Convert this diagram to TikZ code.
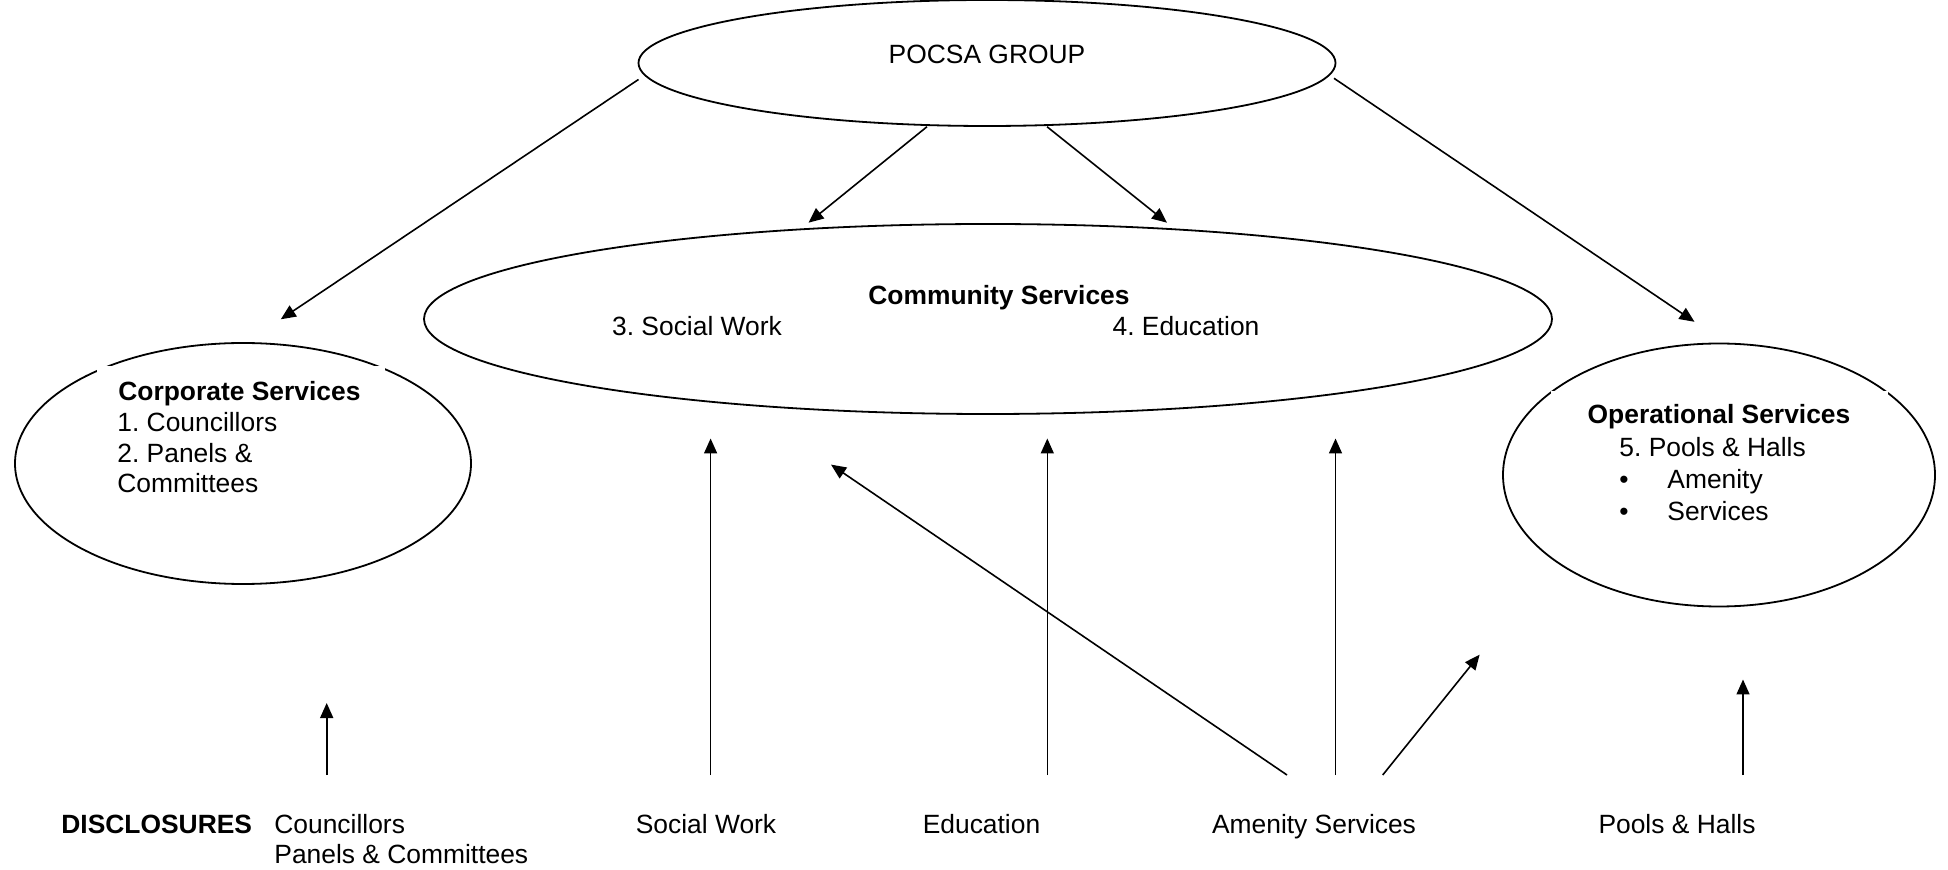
\documentclass[tikz,border=0pt]{standalone}
\usepackage{fontspec}
\setmainfont{Liberation Sans}
\usetikzlibrary{shapes.geometric,arrows.meta}
\frenchspacing
\begin{document}
\begin{tikzpicture}[x=0.5pt,y=-0.5pt,
  txt/.style={inner sep=0pt,font=\fontsize{13.2}{15.5}\selectfont},
  oval/.style={ellipse,draw,line width=0.9pt,inner sep=0pt},
  link/.style={line width=0.8pt,-{Triangle[length=7.5pt,width=6.5pt]}},
  cover/.style={fill=white,draw=none}]
\useasboundingbox (0,0) rectangle (1948,870);

% ellipses
\node[oval,minimum width=348.5pt,minimum height=63pt] (pocsa) at (987,63) {};
\node[oval,minimum width=564pt,minimum height=95pt] (comm) at (988,319) {};
\node[oval,minimum width=228pt,minimum height=120.5pt] (corp) at (243,463.5) {};
\node[oval,minimum width=216pt,minimum height=131.5pt] (oper) at (1719,475) {};

% white text frames lying over the ellipse outlines
\fill[cover] (97,366) rectangle (385,520);
\fill[cover] (1551,391) rectangle (1888,540);

% texts inside the ellipses
\node[txt,anchor=base] (ptitle) at (987,64) {POCSA GROUP};
\node[txt,anchor=base,font=\fontsize{13.2}{15.5}\selectfont\bfseries] (ctitle) at (999,305) {Community Services};
\node[txt,anchor=base] (csw) at (697,336) {3. Social Work};
\node[txt,anchor=base] (ced) at (1186,336) {4. Education};

\node[txt,anchor=base west,font=\fontsize{13.2}{15.5}\selectfont\bfseries] (kt) at (118,401) {Corporate Services};
\node[txt,anchor=base west] (k1) at (117,432) {1. Councillors};
\node[txt,anchor=base west] (k2) at (117,462.5) {2. Panels \&};
\node[txt,anchor=base west] (k3) at (117,493) {Committees};

\node[txt,anchor=base,font=\fontsize{13.2}{15.5}\selectfont\bfseries] (ot) at (1719,424) {Operational Services};
\node[txt,anchor=base west] (o1) at (1619,456.5) {5. Pools \& Halls};
\node[txt,anchor=base] (ob1) at (1624,488.5) {•};
\node[txt,anchor=base west] (o2) at (1667,488.5) {Amenity};
\node[txt,anchor=base] (ob2) at (1624,521) {•};
\node[txt,anchor=base west] (o3) at (1667,521) {Services};

% disclosure labels
\node[txt,anchor=base west,font=\fontsize{13.2}{15.5}\selectfont\bfseries] (disc) at (61,833) {DISCLOSURES};
\node[txt,anchor=base west] (dc) at (274,833) {Councillors};
\node[txt,anchor=base west] (dp) at (274,863) {Panels \& Committees};
\node[txt,anchor=base] (dsw) at (706,833) {Social Work};
\node[txt,anchor=base] (ded) at (981.5,833) {Education};
\node[txt,anchor=base] (dam) at (1314,833) {Amenity Services};
\node[txt,anchor=base] (dph) at (1677,833) {Pools \& Halls};

% connector end points
\coordinate (p1) at (638.5,79.5);   \coordinate (q1) at (280.8,319.3);
\coordinate (p2) at (927,126.7);    \coordinate (q2) at (808.5,222.7);
\coordinate (p3) at (1047,126.7);   \coordinate (q3) at (1167,222.7);
\coordinate (p4) at (1334,78.3);    \coordinate (q4) at (1694.5,321.8);
\coordinate (b1) at (326.7,775);    \coordinate (t1) at (326.7,703);
\coordinate (b2) at (710.6,775);    \coordinate (t2) at (710.6,438.5);
\coordinate (b3) at (1047.3,775);   \coordinate (t3) at (1047.3,438.5);
\coordinate (b4) at (1287,775);     \coordinate (t4) at (831,464.6);
\coordinate (b5) at (1335.5,775);   \coordinate (t5) at (1335.5,438.5);
\coordinate (b6) at (1382.7,775);   \coordinate (t6) at (1479.6,654.7);
\coordinate (b7) at (1743,775);     \coordinate (t7) at (1743,679.5);

% connectors
\draw[link] (p1) -- (q1);
\draw[link] (p2) -- (q2);
\draw[link] (p3) -- (q3);
\draw[link] (p4) -- (q4);
\draw[link] (b1) -- (t1);
\draw[link] (b2) -- (t2);
\draw[link] (b3) -- (t3);
\draw[link] (b4) -- (t4);
\draw[link] (b5) -- (t5);
\draw[link] (b6) -- (t6);
\draw[link] (b7) -- (t7);
\end{tikzpicture}
\end{document}
